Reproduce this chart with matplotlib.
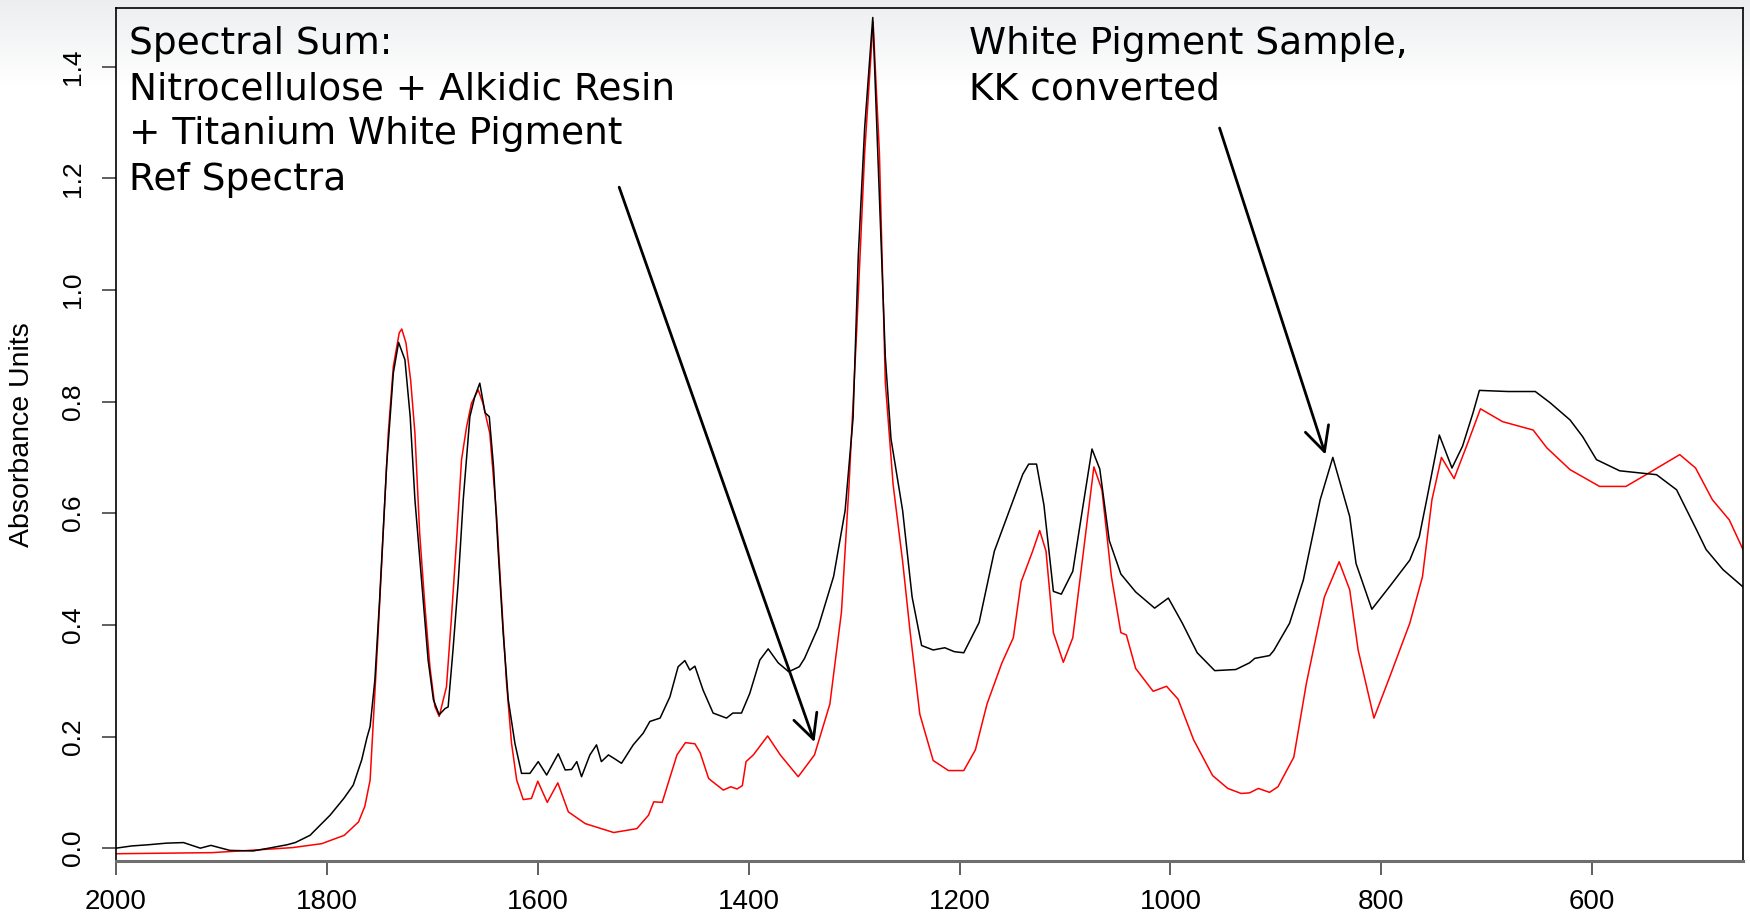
import numpy as np
import matplotlib
matplotlib.use("Agg")
import matplotlib.pyplot as plt

# White pigment sample, KK converted (black)
sample_wn = [2000, 1985, 1970, 1952, 1936, 1920, 1910, 1892, 1870, 1855, 1838, 1830, 1816, 1797,
             1784, 1775, 1767, 1762, 1759, 1754.5, 1750, 1743.4, 1737, 1732, 1726, 1721, 1716.5,
             1710, 1704, 1699, 1693.5, 1688, 1685, 1680.4, 1675.5, 1670.7, 1664.4, 1659.7, 1655,
             1650, 1646, 1642, 1637.6, 1632.8, 1628, 1621.7, 1615.4, 1607.4, 1599.6, 1591.6, 1580.6,
             1574, 1568, 1563, 1558.5, 1550.6, 1544.3, 1539.7, 1533, 1527, 1520.6, 1509.5, 1500,
             1493.7, 1484, 1474.7, 1466.9, 1460.5, 1455.8, 1451, 1443.2, 1433.7, 1421, 1415, 1406.8,
             1399, 1389.4, 1381.5, 1372, 1362, 1352, 1347, 1334, 1319.4, 1308.5, 1301, 1296, 1290,
             1282.3, 1275.8, 1270.4, 1265, 1254, 1245, 1236, 1225, 1214, 1205, 1196, 1181.5, 1167,
             1149, 1140, 1134.4, 1127, 1120, 1111, 1103.5, 1092.6, 1083.6, 1074.4, 1067, 1058, 1047,
             1033, 1015, 1002, 989, 974.6, 958, 938, 925, 920, 906, 902, 887, 874, 858, 846, 830,
             824, 809, 792, 773, 764, 757, 745, 733, 723, 713, 707, 680, 654, 640, 621, 609, 596,
             574, 539, 520, 501, 492, 476, 457]
sample_abs = [0.0, 0.004, 0.006, 0.009, 0.01, 0.0, 0.005, -0.004, -0.005, 0.0, 0.006, 0.01, 0.023,
              0.059, 0.089, 0.113, 0.158, 0.198, 0.218, 0.301, 0.445, 0.684, 0.851, 0.906, 0.875,
              0.773, 0.624, 0.475, 0.337, 0.266, 0.239, 0.25, 0.253, 0.355, 0.475, 0.624, 0.773,
              0.809, 0.833, 0.78, 0.773, 0.684, 0.534, 0.385, 0.266, 0.188, 0.134, 0.134, 0.155,
              0.131, 0.169, 0.14, 0.141, 0.155, 0.128, 0.167, 0.185, 0.155, 0.167, 0.16, 0.152,
              0.185, 0.206, 0.227, 0.233, 0.271, 0.325, 0.336, 0.319, 0.326, 0.283, 0.242, 0.233,
              0.242, 0.242, 0.277, 0.337, 0.357, 0.332, 0.316, 0.325, 0.34, 0.396, 0.487, 0.605,
              0.77, 1.063, 1.29, 1.488, 1.155, 0.88, 0.733, 0.605, 0.45, 0.363, 0.355, 0.359, 0.352,
              0.35, 0.404, 0.532, 0.624, 0.67, 0.688, 0.688, 0.615, 0.46, 0.455, 0.496, 0.605, 0.715,
              0.679, 0.551, 0.491, 0.459, 0.43, 0.448, 0.404, 0.35, 0.318, 0.32, 0.332, 0.34, 0.345,
              0.354, 0.403, 0.48, 0.624, 0.70, 0.594, 0.51, 0.428, 0.469, 0.516, 0.558, 0.624, 0.74,
              0.681, 0.72, 0.78, 0.82, 0.818, 0.818, 0.798, 0.767, 0.737, 0.696, 0.676, 0.669,
              0.642, 0.57, 0.535, 0.499, 0.468]

# Spectral sum of reference spectra (red)
sum_wn = [2000, 1908.7, 1865, 1832.5, 1805, 1783.5, 1770, 1764, 1759, 1755.5, 1751.4, 1746.6,
          1741.8, 1737, 1731.4, 1729, 1725, 1720.6, 1716.5, 1712, 1707, 1702.3, 1697.6, 1693.5,
          1686.6, 1681.8, 1677, 1672.3, 1667.5, 1662.9, 1656.5, 1652, 1645.5, 1639, 1634.4, 1629.6,
          1624.9, 1620, 1613.8, 1606, 1600, 1591, 1581, 1571, 1555, 1528, 1506, 1495, 1490, 1482,
          1468, 1460, 1451, 1446, 1438, 1435.5, 1424, 1417, 1411, 1406, 1402.5, 1395.6, 1382, 1370,
          1353, 1337.6, 1323, 1312, 1304.8, 1297.6, 1290, 1282, 1276, 1270.4, 1263, 1254, 1246.8,
          1237.7, 1225, 1210.5, 1196, 1185, 1174, 1160, 1149, 1141.6, 1130.7, 1124, 1118, 1111,
          1101.6, 1092.6, 1083.6, 1072.6, 1065, 1056, 1047, 1041.8, 1033, 1016.4, 1003.7, 992.8,
          978, 960, 945.6, 933, 925, 916.6, 906, 898, 883, 871, 854, 840, 830, 822, 807, 792, 773,
          761, 752, 743, 731, 718, 706, 685, 656, 643, 621, 593, 568, 549, 517, 502, 486, 470, 457]
sum_abs = [-0.01, -0.008, -0.003, 0.001, 0.008, 0.023, 0.047, 0.075, 0.122, 0.242, 0.385, 0.564,
           0.743, 0.863, 0.923, 0.93, 0.905, 0.839, 0.743, 0.564, 0.433, 0.325, 0.254, 0.236,
           0.289, 0.415, 0.552, 0.696, 0.755, 0.797, 0.821, 0.797, 0.743, 0.594, 0.445, 0.295,
           0.188, 0.122, 0.087, 0.089, 0.12, 0.082, 0.117, 0.065, 0.044, 0.028, 0.035, 0.059, 0.083,
           0.082, 0.167, 0.189, 0.187, 0.171, 0.125, 0.121, 0.104, 0.11, 0.106, 0.112, 0.155, 0.167,
           0.201, 0.167, 0.128, 0.167, 0.258, 0.423, 0.651, 0.925, 1.245, 1.48, 1.245, 0.834, 0.651,
           0.514, 0.386, 0.24, 0.157, 0.139, 0.139, 0.176, 0.258, 0.331, 0.377, 0.477, 0.532, 0.569,
           0.532, 0.386, 0.333, 0.377, 0.514, 0.683, 0.642, 0.487, 0.386, 0.382, 0.322, 0.281, 0.29,
           0.267, 0.194, 0.13, 0.107, 0.098, 0.099, 0.107, 0.1, 0.11, 0.163, 0.296, 0.45, 0.513,
           0.463, 0.355, 0.233, 0.307, 0.403, 0.486, 0.624, 0.70, 0.662, 0.726, 0.787, 0.764, 0.749,
           0.717, 0.678, 0.648, 0.648, 0.669, 0.705, 0.681, 0.624, 0.588, 0.535]

x_ticks = [2000, 1800, 1600, 1400, 1200, 1000, 800, 600]
y_ticks = [0.0, 0.2, 0.4, 0.6, 0.8, 1.0, 1.2, 1.4]

W, H = 1750, 923
fig = plt.figure(figsize=(W / 100, H / 100), dpi=100)
fig.patch.set_facecolor("white")

# faint slide-style gradient at the top of the picture
bg = fig.add_axes([0, 0, 1, 1], zorder=-5)
grad = np.ones((H, 1, 3))
fade = np.clip(np.arange(H) / 85.0, 0, 1)[:, None]
top = np.array([0.925, 0.933, 0.94])
grad[:, 0, :] = top + (1 - top) * fade
bg.imshow(grad, aspect="auto", extent=[0, 1, 0, 1], origin="upper")
bg.axis("off")

ax = fig.add_axes([116 / W, 1 - 861 / H, (1743 - 116) / W, (861 - 8) / H])
ax.patch.set_alpha(0)

ax.plot(sum_wn, sum_abs, color="red", lw=1.1)
ax.plot(sample_wn, sample_abs, color="black", lw=1.1)

ax.set_xlim(2000, 457)
ax.set_ylim(-0.023, 1.505)

tick_font = "Liberation Sans"
ax.set_xticks(x_ticks)
ax.set_xticklabels([str(t) for t in x_ticks], fontsize=20, family=tick_font)
ax.set_yticks(y_ticks)
ax.set_yticklabels([f"{t:.1f}" for t in y_ticks], fontsize=19, family=tick_font,
                   rotation=90, va="center")
ax.tick_params(axis="x", length=10, width=1.2, color="#444444", pad=10)
ax.tick_params(axis="y", length=10, width=1.2, color="#444444", pad=12)
ax.set_ylabel("Absorbance Units", fontsize=20.5, family=tick_font)
ax.yaxis.set_label_coords(-0.050, 0.5)

for side in ["left", "top", "right"]:
    ax.spines[side].set_color("black")
    ax.spines[side].set_linewidth(1.2)
ax.spines["bottom"].set_color("#6e6e6e")
ax.spines["bottom"].set_linewidth(2.2)

ann_font = "DejaVu Sans"
fig.text(129 / W, 1 - 26 / H,
         "Spectral Sum:\nNitrocellulose + Alkidic Resin\n+ Titanium White Pigment\nRef Spectra",
         fontsize=27, family=ann_font, va="top", ha="left", linespacing=1.33)
fig.text(969 / W, 1 - 26 / H, "White Pigment Sample,\nKK converted",
         fontsize=27, family=ann_font, va="top", ha="left", linespacing=1.33)

arrow = dict(arrowstyle="->,head_length=0.7,head_width=0.35", lw=2.0, color="black",
             shrinkA=0, shrinkB=0, mutation_scale=25)
ax.annotate("", xy=(1337.6, 0.19), xytext=(1522.8, 1.184), arrowprops=arrow)
ax.annotate("", xy=(853, 0.705), xytext=(953.4, 1.29), arrowprops=arrow)

fig.savefig("out.png", dpi=100, facecolor=fig.get_facecolor())
